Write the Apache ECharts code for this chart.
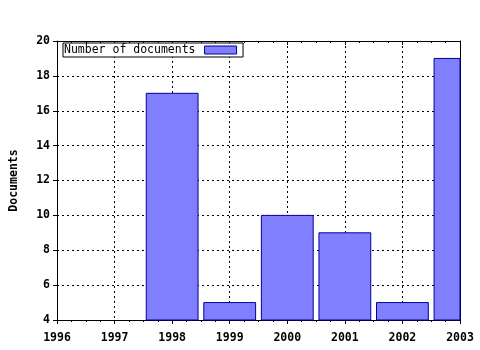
<!DOCTYPE html>
<html><head><meta charset="utf-8">
<script src="https://cdn.jsdelivr.net/npm/echarts@6/dist/echarts.min.js"></script>
<style>html,body{margin:0;padding:0;background:#fff}#c{width:480px;height:350px}</style>
</head><body><div id="c"></div>
<script>
var years = [1998, 1999, 2000, 2001, 2002, 2003];
var documents = [17, 5, 10, 9, 5, 19];
var seriesName = 'Number of documents';
var yAxisName = 'Documents';

var font = 'DejaVu Sans Mono';
var fs = 11.5;
var chart = echarts.init(document.getElementById('c'), null, {renderer: 'canvas'});
var dataPairs = years.map(function (y, i) { return [y, documents[i]]; });
var gridLine = {show: true, lineStyle: {color: '#000', width: 1, type: [2, 3]}};
var barStyle = {color: '#8080ff', borderColor: '#00009c', borderWidth: 1};
chart.setOption({
  animation: false,
  backgroundColor: '#fff',
  grid: {left: 57, right: 20, top: 41, bottom: 30, containLabel: false, outerBoundsMode: 'none'},
  legend: {
    show: true, left: 63, top: 43, orient: 'horizontal', align: 'right',
    padding: [1, 6, 1, 1], borderColor: '#000', borderWidth: 1, backgroundColor: '#fff',
    itemWidth: 32, itemHeight: 8, icon: 'rect',
    textStyle: {fontFamily: font, fontSize: fs, color: '#000', padding: [0, 4, 0, 0]},
    data: [{name: seriesName, itemStyle: barStyle}]
  },
  xAxis: [{
    type: 'value', position: 'bottom', min: 1996, max: 2003, interval: 1,
    axisLine: {show: true, onZero: false, lineStyle: {color: '#000', width: 1}},
    axisTick: {show: true, inside: false, length: 4, lineStyle: {color: '#000'}},
    minorTick: {show: true, splitNumber: 4, length: 2, lineStyle: {color: '#000'}},
    axisLabel: {fontFamily: font, fontWeight: 'bold', fontSize: fs, color: '#000', margin: 12, showMaxLabel: true, showMinLabel: true,
      formatter: function (v) { return String(v); }},
    splitLine: gridLine
  }, {
    type: 'value', position: 'top', min: 1996, max: 2003, interval: 1,
    axisLine: {show: true, onZero: false, lineStyle: {color: '#000', width: 1}},
    axisTick: {show: true, inside: true, length: 4, lineStyle: {color: '#000'}},
    minorTick: {show: true, splitNumber: 4, length: 2, lineStyle: {color: '#000'}},
    axisLabel: {show: false}, splitLine: {show: false}
  }],
  yAxis: [{
    type: 'value', position: 'left', min: 4, max: 20, interval: 2,
    name: yAxisName, nameLocation: 'middle', nameGap: 37, nameRotate: 90,
    nameTextStyle: {fontFamily: font, fontWeight: 'bold', fontSize: fs, color: '#000'},
    axisLine: {show: true, onZero: false, lineStyle: {color: '#000', width: 1}},
    axisTick: {show: true, inside: false, length: 4, lineStyle: {color: '#000'}},
    axisLabel: {fontFamily: font, fontWeight: 'bold', fontSize: fs, color: '#000', margin: 7},
    splitLine: gridLine
  }, {
    type: 'value', position: 'right', min: 4, max: 20, interval: 2,
    axisLine: {show: true, onZero: false, lineStyle: {color: '#000', width: 1}},
    axisTick: {show: false}, axisLabel: {show: false}, splitLine: {show: false}
  }],
  series: [{
    name: seriesName, type: 'custom', xAxisIndex: 0, yAxisIndex: 0,
    itemStyle: barStyle,
    renderItem: function (params, api) {
      var x = api.value(0), v = api.value(1);
      var top = api.coord([x, v]);
      var w = api.size([1, 0])[0] * 0.9;
      var cs = params.coordSys;
      var bottom = cs.y + cs.height;
      var rect = echarts.graphic.clipRectByRect(
        {x: top[0] - w / 2, y: top[1], width: w, height: bottom - top[1]},
        {x: cs.x, y: cs.y, width: cs.width, height: cs.height + 2});
      if (!rect) return null;
      return {type: 'rect', shape: rect, style: api.style()};
    },
    encode: {x: 0, y: 1},
    data: dataPairs
  }]
});
</script></body></html>
